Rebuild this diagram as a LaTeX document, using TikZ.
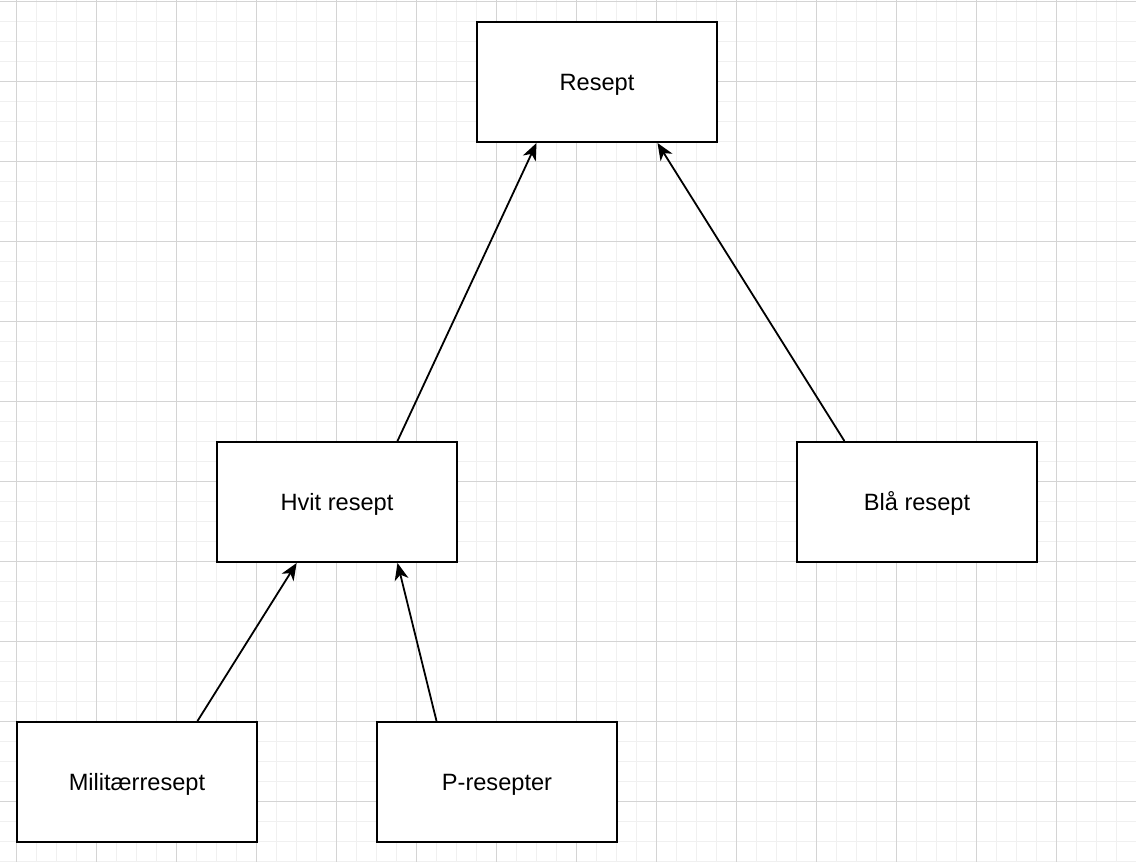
\documentclass[tikz,border=0pt]{standalone}
\usepackage{fontspec}
\setmainfont{Liberation Sans}
\usetikzlibrary{arrows.meta,calc}
\definecolor{gridminor}{RGB}{240,240,240}
\definecolor{gridmajor}{RGB}{212,212,212}
\begin{document}
\begin{tikzpicture}[x=1pt,y=-1pt,
  box/.style={draw, line width=2pt, minimum width=240pt, minimum height=120pt, inner sep=0pt, fill=white, text height=17pt, text depth=0pt, font=\fontsize{23.6}{28}\selectfont},
  conn/.style={line width=1.8pt, -{Stealth[length=17pt,width=14pt,inset=5pt]}},
  minorline/.style={gridminor, line width=1pt},
  majorline/.style={gridmajor, line width=1pt}]
\useasboundingbox (0,0) rectangle (1136,862);
\fill[white] (0,0) rectangle (1136,862);
\foreach \x in {16,36,...,1136} \draw[minorline] (\x,0) -- (\x,862);
\foreach \y in {1,21,...,861} \draw[minorline] (0,\y) -- (1136,\y);
\foreach \x in {16,96,...,1136} \draw[majorline] (\x,0) -- (\x,862);
\foreach \y in {1,81,...,801} \draw[majorline] (0,\y) -- (1136,\y);

\node[box] (resept) at (597,82) {Resept};
\node[box] (hvit) at (337,502) {Hvit resept};
\node[box] (bla) at (917,502) {Blå resept};
\node[box] (mil) at (137,782) {Militærresept};
\node[box] (pres) at (497,782) {P-resepter};

\draw[conn] ($(hvit.north west)!0.75!(hvit.north east)$) -- ($(resept.south west)!0.25!(resept.south east)$);
\draw[conn] ($(bla.north west)!0.2!(bla.north east)$) -- ($(resept.south west)!0.75!(resept.south east)$);
\draw[conn] ($(mil.north west)!0.75!(mil.north east)$) -- ($(hvit.south west)!0.3333!(hvit.south east)$);
\draw[conn] ($(pres.north west)!0.25!(pres.north east)$) -- ($(hvit.south west)!0.75!(hvit.south east)$);
\end{tikzpicture}
\end{document}
